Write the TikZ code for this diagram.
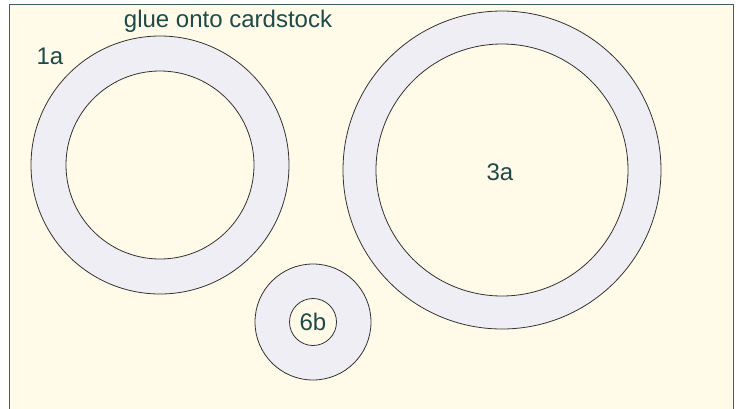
\documentclass[tikz,border=0pt]{standalone}
\usepackage{fontspec}
\setmainfont{Liberation Sans}
\definecolor{bgcream}{HTML}{FFFBE8}
\definecolor{ringfill}{HTML}{EEEEF4}
\definecolor{framecol}{HTML}{3F5F5F}
\definecolor{txtcol}{HTML}{1F4A4A}
\begin{document}
\begin{tikzpicture}[x=1pt,y=-1pt,
  outerring/.style={circle,draw=black!80,line width=0.8pt,fill=ringfill,inner sep=0pt},
  innerring/.style={circle,draw=black!80,line width=0.8pt,fill=bgcream,inner sep=0pt},
  lbl/.style={text=txtcol,font=\fontsize{24}{27}\selectfont,inner sep=0pt}]
\useasboundingbox (0,0) rectangle (737,408);
\fill[white] (0,0) rectangle (737,408);
\draw[framecol,line width=1.6pt,fill=bgcream] (9.5,420) -- (9.5,4.5) -- (733.5,4.5) -- (733.5,420);
\node[outerring,minimum size=258pt] (o1) at (160,165) {};
\node[innerring,minimum size=188pt] (i1) at (160,165) {};
\node[outerring,minimum size=318pt] (o3) at (502,170) {};
\node[innerring,minimum size=252pt] (i3) at (502,170) {};
\node[outerring,minimum size=116pt] (o6) at (313,322) {};
\node[innerring,minimum size=47pt] (i6) at (313,322) {};
\node[lbl] (t) at (228,21) {glue onto cardstock};
\node[lbl] (l1) at (50,56) {1a};
\node[lbl] (l3) at (500,172) {3a};
\node[lbl] (l6) at (313,322) {6b};
\end{tikzpicture}
\end{document}
